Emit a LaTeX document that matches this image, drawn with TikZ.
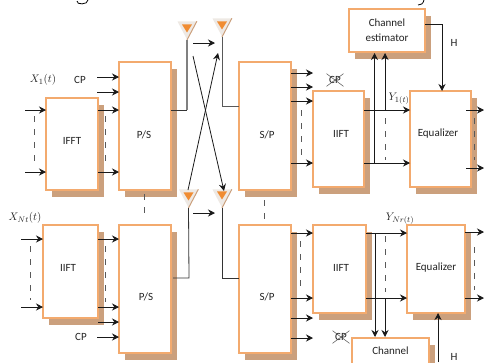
\documentclass[tikz,border=0pt]{standalone}
\usepackage{fontspec}
\setmainfont{Carlito}
\usepackage{tikz}
\usetikzlibrary{arrows.meta,shapes.geometric,shadows}
\definecolor{boxedge}{RGB}{243,170,110}
\definecolor{boxshade}{RGB}{203,160,125}
\definecolor{antcore}{RGB}{240,140,50}
\definecolor{antbody}{RGB}{238,233,228}
\definecolor{inktext}{RGB}{35,35,35}
\tikzset{>={Stealth[length=7pt,width=7pt]}}
\tikzset{
  block/.style={draw=boxedge,fill=white,line width=1.2pt,inner sep=0pt,text=inktext,
    drop shadow={shadow xshift=6pt,shadow yshift=-6.5pt,fill=boxshade,draw=none,opacity=1}},
  sig/.style={->,line width=.8pt,black!90},
  feed/.style={line width=.8pt,black!80},
  gapline/.style={line width=.6pt,black!65,dash pattern=on 6pt off 7pt},
  antenna/.style={isosceles triangle,isosceles triangle stretches,shape border rotate=-90,
    minimum width=19pt,minimum height=18pt,inner sep=0pt,fill=antbody},
  antinner/.style={isosceles triangle,isosceles triangle stretches,shape border rotate=-90,
    minimum width=10pt,minimum height=8pt,inner sep=0pt,fill=antcore},
  tag/.style={inner sep=0pt,text=inktext},
  crossed/.style={inner sep=2.5pt,text=inktext}
}

\begin{document}
\begin{tikzpicture}[x=1pt,y=-1pt,every node/.style={font=\fontsize{11}{13}\selectfont}]
\useasboundingbox (0,0) rectangle (484,362);
\clip (0,0) rectangle (484,362);

% transmitter
\node (ifft1) [block,minimum width=52pt,minimum height=92pt,label={[yshift=3pt,text=inktext]center:IFFT}] at (72,144) {};
\node (ps1) [block,minimum width=52pt,minimum height=128pt,label={[xshift=-1pt,yshift=-9pt,text=inktext]center:P/S}] at (145,126) {};
\node (ifft2) [block,minimum width=55pt,minimum height=93pt,label={[xshift=-2.5pt,yshift=3.5pt,text=inktext]center:IIFT}] at (70.5,271.5) {};
\node (ps2) [block,minimum width=52pt,minimum height=128pt,label={[xshift=1pt,yshift=-8pt,text=inktext]center:P/S}] at (145,289) {};

% receiver
\node (sp1) [block,minimum width=52pt,minimum height=128pt,label={[xshift=2pt,yshift=-9pt,text=inktext]center:S/P}] at (265,126) {};
\node (iift1) [block,minimum width=51pt,minimum height=96pt,label={[xshift=2.5pt,yshift=5pt,text=inktext]center:IIFT}] at (338.5,139) {};
\node (eq1) [block,minimum width=61pt,minimum height=96pt,label={[xshift=-2.5pt,yshift=5pt,text=inktext]center:Equalizer}] at (440.5,139) {};
\node (chan1) [block,minimum width=76pt,minimum height=43pt,align=center] at (387,30.5) {Channel\\[2pt]estimator};
\node (sp2) [block,minimum width=52pt,minimum height=128pt,label={[xshift=2pt,yshift=-8pt,text=inktext]center:S/P}] at (265,289) {};
\node (iift2) [block,minimum width=53pt,minimum height=88pt,label={[xshift=1.5pt,yshift=1pt,text=inktext]center:IIFT}] at (339.5,269) {};
\node (eq2) [block,minimum width=58pt,minimum height=88pt,label={[yshift=1pt,text=inktext]center:Equalizer}] at (436,269) {};
\node (chan2) [block,minimum width=77pt,minimum height=50pt,label={[yshift=12pt,text=inktext]center:Channel}] at (390.5,363) {};

% antennas
\node (ant1) [antenna,anchor=apex] at (187,40) {};
\node (ant2) [antenna,anchor=apex] at (222,37) {};
\node (ant3) [antenna,anchor=apex] at (188.5,208) {};
\node (ant4) [antenna,anchor=apex] at (222,208) {};
\node (core1) [antinner,anchor=apex] at (187,33) {};
\node (core2) [antinner,anchor=apex] at (222,30) {};
\node (core3) [antinner,anchor=apex] at (188.5,201) {};
\node (core4) [antinner,anchor=apex] at (222,200) {};
\draw[boxshade,line width=1pt] (ant1.apex) -- (ant1.left corner);
\draw[boxshade,line width=1pt] (ant2.apex) -- (ant2.left corner);
\draw[boxshade,line width=1pt] (ant3.apex) -- (ant3.left corner);
\draw[boxshade,line width=1pt] (ant4.apex) -- (ant4.left corner);

% labels
\node (x1) [tag] at (43,80) {$X_1(t)$};
\node (xnt) [tag] at (25,218) {$X_{Nt}(t)$};
\node (cp1) [tag] at (80,80) {CP};
\node (cp2) [tag] at (81,337) {CP};
\node (cp3) [crossed] at (335,80) {CP};
\node (cp4) [crossed] at (341,337) {CP};
\node (y1) [tag] at (399,99) {$Y_{1(t)}$};
\node (ynr) [tag] at (400,219) {$Y_{Nr(t)}$};
\node (h1) [tag] at (454,43) {H};
\node (h2) [tag] at (454,357) {H};
\draw[black!70,line width=.5pt] (cp3.north west) -- (cp3.south east);
\draw[black!70,line width=.5pt] (cp3.north east) -- (cp3.south west);
\draw[black!70,line width=.5pt] (cp4.north west) -- (cp4.south east);
\draw[black!70,line width=.5pt] (cp4.north east) -- (cp4.south west);

% free ends
\coordinate (in11) at (25,110);
\coordinate (in12) at (25,172);
\coordinate (in21) at (21,239);
\coordinate (in22) at (21,307);
\coordinate (outa) at (484,110);
\coordinate (outb) at (484,168);
\coordinate (outc) at (484,232);
\coordinate (outd) at (484,298);
\coordinate (s1) at (193,43);
\coordinate (e1) at (215,43);
\coordinate (s2) at (193,213);
\coordinate (e2) at (215,213);
\coordinate (tipa) at (193,56);
\coordinate (tipb) at (224,191);
\coordinate (tipc) at (188,190);
\coordinate (tipd) at (218,53);
\coordinate (bend1) at (187,110);
\coordinate (bend2) at (222,106);
\coordinate (bend3) at (189,278);
\coordinate (bend4) at (222,278);
\coordinate (bend5) at (442,24);
\coordinate (h2low) at (438,362);

% left block edges
\coordinate (ifft1w1) at (46,110);
\coordinate (ifft1w2) at (46,172);
\coordinate (ifft1e1) at (98,110);
\coordinate (ifft1e2) at (98,172);
\coordinate (ps1w0) at (97,77);
\coordinate (ps1a) at (119,77);
\coordinate (ps1l) at (97,92);
\coordinate (ps1b) at (119,92);
\coordinate (ps1c) at (119,110);
\coordinate (ps1d) at (119,172);
\coordinate (ps1e) at (171,110);
\coordinate (ifft2w1) at (43,239);
\coordinate (ifft2w2) at (43,307);
\coordinate (ifft2e1) at (98,239);
\coordinate (ifft2e2) at (98,307);
\coordinate (ifft2e3) at (98,322);
\coordinate (ps2l) at (97,337);
\coordinate (ps2a) at (119,239);
\coordinate (ps2b) at (119,307);
\coordinate (ps2c) at (119,322);
\coordinate (ps2d) at (119,337);
\coordinate (ps2e) at (173,278);

% right block edges
\coordinate (sp1w) at (239,106);
\coordinate (sp1a) at (291,73);
\coordinate (sp1b) at (291,87);
\coordinate (sp1c) at (291,101);
\coordinate (sp1d) at (291,163);
\coordinate (iift1a) at (313,73);
\coordinate (iift1b) at (313,87);
\coordinate (iift1c) at (313,101);
\coordinate (iift1d) at (313,163);
\coordinate (iift1e) at (364,110);
\coordinate (iift1f) at (364,163);
\coordinate (eq1a) at (410,110);
\coordinate (eq1b) at (410,163);
\coordinate (eq1c) at (442,91);
\coordinate (eq1d) at (466,110);
\coordinate (eq1f) at (466,168);
\coordinate (tap1) at (374.5,163);
\coordinate (tap2) at (385,110);
\coordinate (chan1a) at (374.5,53);
\coordinate (chan1b) at (385,53);
\coordinate (chan1e) at (425,24);
\coordinate (sp2w) at (239,278);
\coordinate (sp2a) at (291,233);
\coordinate (sp2b) at (291,298);
\coordinate (sp2c) at (291,318);
\coordinate (sp2d) at (291,338);
\coordinate (iift2a) at (313,233);
\coordinate (iift2b) at (313,298);
\coordinate (iift2c) at (313,318);
\coordinate (iift2d) at (313,338);
\coordinate (iift2e) at (366,233);
\coordinate (iift2f) at (366,298);
\coordinate (eq2a) at (407,233);
\coordinate (eq2b) at (407,298);
\coordinate (eq2c) at (438,313);
\coordinate (eq2d) at (465,232);
\coordinate (eq2f) at (465,298);
\coordinate (tap3) at (375,233);
\coordinate (tap4) at (385,298);
\coordinate (chan2a) at (375,337);
\coordinate (chan2b) at (385,337);

% connectors, left
\draw[sig] (in11) -- (ifft1w1);
\draw[sig] (in12) -- (ifft1w2);
\draw[sig] (ps1w0) -- (ps1a);
\draw[sig] (ps1l) -- (ps1b);
\draw[sig] (ifft1e1) -- (ps1c);
\draw[sig] (ifft1e2) -- (ps1d);
\draw[sig] (in21) -- (ifft2w1);
\draw[sig] (in22) -- (ifft2w2);
\draw[sig] (ifft2e1) -- (ps2a);
\draw[sig] (ifft2e2) -- (ps2b);
\draw[sig] (ifft2e3) -- (ps2c);
\draw[sig] (ps2l) -- (ps2d);
\draw[black!50,line width=1.1pt] (bend1) -- (ant1.apex);
\draw[feed] (ps1e) -- (bend1);
\draw[feed] (ps2e) -- (bend3) -- (ant3.apex);

% connectors, middle
\draw[black!65,line width=.9pt] (sp1w) -- (bend2) -- (ant2.apex);
\draw[feed] (sp2w) -- (bend4) -- (ant4.apex);
\draw[sig] (s1) -- (e1);
\draw[sig] (s2) -- (e2);
\draw[sig] (tipa) -- (tipb);
\draw[sig] (tipc) -- (tipd);

% connectors, right
\draw[sig] (sp1a) -- (iift1a);
\draw[sig] (sp1b) -- (iift1b);
\draw[sig] (sp1c) -- (iift1c);
\draw[sig] (sp1d) -- (iift1d);
\draw[sig] (iift1e) -- (eq1a);
\draw[sig] (iift1f) -- (eq1b);
\draw[sig] (tap1) -- (chan1a);
\draw[sig] (tap2) -- (chan1b);
\draw[sig] (chan1e) -- (bend5) -- (eq1c);
\draw[sig] (eq1d) -- (outa);
\draw[sig] (eq1f) -- (outb);
\draw[sig] (sp2a) -- (iift2a);
\draw[sig] (sp2b) -- (iift2b);
\draw[sig] (sp2c) -- (iift2c);
\draw[sig] (sp2d) -- (iift2d);
\draw[sig] (iift2e) -- (eq2a);
\draw[sig] (iift2f) -- (eq2b);
\draw[sig] (tap3) -- (chan2a);
\draw[sig] (tap4) -- (chan2b);
\draw[sig] (h2low) -- (eq2c);
\draw[sig] (eq2d) -- (outc);
\draw[sig] (eq2f) -- (outd);

% dashes between the lines
\draw[gapline] (34,116) -- (34,165);
\draw[gapline] (105,116) -- (105,166);
\draw[gapline] (30,246) -- (30,300);
\draw[gapline] (105,246) -- (105,302);
\draw[gapline] (144,194) -- (144,219);
\draw[gapline] (264,200) -- (264,219);
\draw[gapline] (301,110) -- (301,160);
\draw[gapline] (385,118) -- (385,160);
\draw[gapline] (474,118) -- (474,160);
\draw[gapline] (300,241) -- (300,290);
\draw[gapline] (385,236) -- (385,292);
\draw[gapline] (474,247) -- (474,290);

% ends of the cut text line above
\draw[black,line width=.8pt] (88,0) .. controls (88,5) and (76,5) .. (77,1);
\draw[black,line width=.8pt] (424,0) .. controls (423,4) and (421,5) .. (418,5);
\end{tikzpicture}
\end{document}
